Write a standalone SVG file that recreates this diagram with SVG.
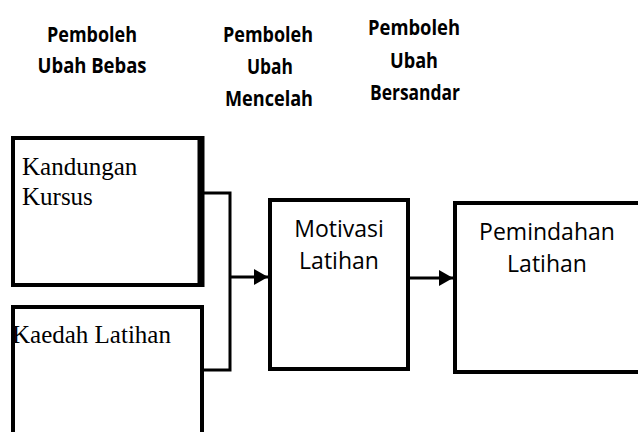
<svg xmlns="http://www.w3.org/2000/svg" width="638" height="432" viewBox="0 0 638 432">
  <style>
    .box { fill: #ffffff; stroke: #000000; stroke-width: 4; }
    .wire { fill: none; stroke: #000000; stroke-width: 3; }
    .head { font-family: "Open Sans", "Liberation Sans", sans-serif; font-weight: bold; font-size: 20.5px; fill: #000; text-anchor: middle; }
    .serif { font-family: "Liberation Serif", "Times New Roman", serif; font-size: 25px; fill: #000; }
    .sans { font-family: "Open Sans", "Liberation Sans", sans-serif; font-size: 23px; fill: #000; text-anchor: middle; }
  </style>
  <defs>
    <marker id="arrow" viewBox="0 0 14 16" refX="14" refY="8" markerWidth="14" markerHeight="16" markerUnits="userSpaceOnUse" orient="auto">
      <path d="M0,0 L14,8 L0,16 Z" fill="#000"/>
    </marker>
  </defs>
  <rect width="638" height="432" fill="#ffffff"/>

  <!-- column headings -->
  <g id="heading-bebas">
    <text class="head" x="92" y="42" textLength="90" lengthAdjust="spacingAndGlyphs">Pemboleh</text>
    <text class="head" x="92" y="73" textLength="109" lengthAdjust="spacingAndGlyphs">Ubah Bebas</text>
  </g>
  <g id="heading-mencelah">
    <text class="head" x="268" y="42" textLength="90" lengthAdjust="spacingAndGlyphs">Pemboleh</text>
    <text class="head" x="270" y="74" textLength="46" lengthAdjust="spacingAndGlyphs">Ubah</text>
    <text class="head" x="269" y="106" textLength="88" lengthAdjust="spacingAndGlyphs">Mencelah</text>
  </g>
  <g id="heading-bersandar">
    <text class="head" x="414" y="35" textLength="92" lengthAdjust="spacingAndGlyphs">Pemboleh</text>
    <text class="head" x="414" y="68" textLength="48" lengthAdjust="spacingAndGlyphs">Ubah</text>
    <text class="head" x="415" y="100" textLength="90" lengthAdjust="spacingAndGlyphs">Bersandar</text>
  </g>

  <!-- connectors -->
  <g id="connectors">
    <polyline class="wire" points="195,193 230,193 230,370 204,370"/>
    <line class="wire" x1="230" y1="277" x2="268" y2="277" marker-end="url(#arrow)"/>
    <line class="wire" x1="402" y1="278" x2="453" y2="278" marker-end="url(#arrow)"/>
  </g>

  <g id="kandungan-kursus">
    <rect class="box" x="13" y="138" width="188" height="147"/>
    <line x1="201" y1="136" x2="201" y2="287" stroke="#000" stroke-width="7"/>
    <text class="serif" x="22" y="175">Kandungan</text>
    <text class="serif" x="22" y="205">Kursus</text>
  </g>

  <g id="kaedah-latihan">
    <path d="M13,440 L13,307 L202,307 L202,440" fill="#fff" stroke="#000" stroke-width="4"/>
    <text class="serif" x="12" y="343">Kaedah Latihan</text>
  </g>

  <g id="motivasi-latihan">
    <rect class="box" x="270" y="200" width="138" height="169"/>
    <text class="sans" x="339" y="237">Motivasi</text>
    <text class="sans" x="339" y="269">Latihan</text>
  </g>

  <g id="pemindahan-latihan">
    <rect class="box" x="455" y="203" width="200" height="169"/>
    <text class="sans" x="547" y="240">Pemindahan</text>
    <text class="sans" x="547" y="272">Latihan</text>
  </g>
</svg>
